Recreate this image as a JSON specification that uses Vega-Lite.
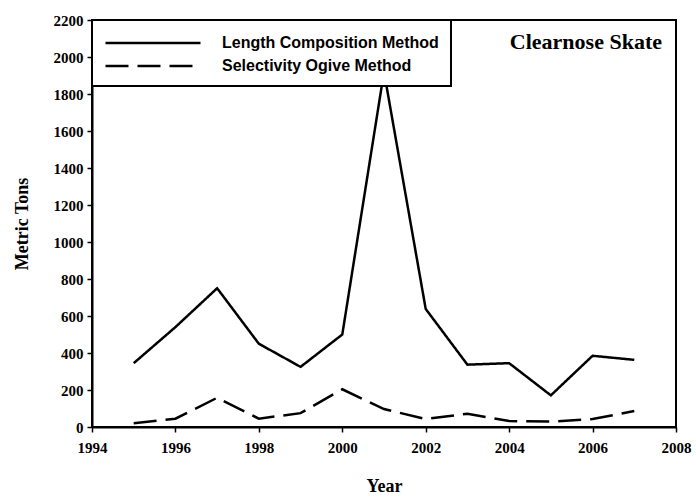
{
  "$schema": "https://vega.github.io/schema/vega-lite/v6.json",
  "width": 584,
  "height": 407,
  "autosize": {"type": "none"},
  "padding": {"left": 92, "top": 20, "right": 20, "bottom": 70},
  "background": "white",
  "title": {"text": "Clearnose Skate", "anchor": "end", "frame": "group", "orient": "top", "offset": -41, "dx": -14, "font": "Liberation Serif", "fontSize": 22, "fontWeight": "bold", "color": "black"},
  "config": {
    "view": {"stroke": "black", "strokeWidth": 2},
    "legend": {"strokeWidth": 2},
    "axis": {
      "labelFont": "Liberation Serif", "labelFontWeight": "bold", "labelFontSize": 15, "labelColor": "black",
      "titleFont": "Liberation Serif", "titleFontWeight": "bold", "titleFontSize": 18, "titleColor": "black",
      "domainColor": "black", "domainWidth": 2, "tickColor": "black", "tickWidth": 1.5, "tickSize": 5, "grid": false
    }
  },
  "data": {"values": [
    {"year": 1995, "tons": 345, "method": "Length Composition Method"},
    {"year": 1996, "tons": 540, "method": "Length Composition Method"},
    {"year": 1997, "tons": 750, "method": "Length Composition Method"},
    {"year": 1998, "tons": 450, "method": "Length Composition Method"},
    {"year": 1999, "tons": 325, "method": "Length Composition Method"},
    {"year": 2000, "tons": 500, "method": "Length Composition Method"},
    {"year": 2001, "tons": 1920, "method": "Length Composition Method"},
    {"year": 2002, "tons": 638, "method": "Length Composition Method"},
    {"year": 2003, "tons": 337, "method": "Length Composition Method"},
    {"year": 2004, "tons": 345, "method": "Length Composition Method"},
    {"year": 2005, "tons": 171, "method": "Length Composition Method"},
    {"year": 2006, "tons": 385, "method": "Length Composition Method"},
    {"year": 2007, "tons": 363, "method": "Length Composition Method"},
    {"year": 1995, "tons": 20, "method": "Selectivity Ogive Method"},
    {"year": 1996, "tons": 45, "method": "Selectivity Ogive Method"},
    {"year": 1997, "tons": 158, "method": "Selectivity Ogive Method"},
    {"year": 1998, "tons": 45, "method": "Selectivity Ogive Method"},
    {"year": 1999, "tons": 75, "method": "Selectivity Ogive Method"},
    {"year": 2000, "tons": 204, "method": "Selectivity Ogive Method"},
    {"year": 2001, "tons": 97, "method": "Selectivity Ogive Method"},
    {"year": 2002, "tons": 43, "method": "Selectivity Ogive Method"},
    {"year": 2003, "tons": 72, "method": "Selectivity Ogive Method"},
    {"year": 2004, "tons": 32, "method": "Selectivity Ogive Method"},
    {"year": 2005, "tons": 29, "method": "Selectivity Ogive Method"},
    {"year": 2006, "tons": 43, "method": "Selectivity Ogive Method"},
    {"year": 2007, "tons": 86, "method": "Selectivity Ogive Method"}
  ]},
  "mark": {"type": "line", "strokeWidth": 2.5, "color": "black"},
  "encoding": {
    "x": {"field": "year", "type": "quantitative", "title": "Year",
      "scale": {"domain": [1994, 2008], "nice": false, "zero": false},
      "axis": {"values": [1994, 1996, 1998, 2000, 2002, 2004, 2006, 2008], "format": "d", "labelPadding": 8, "titlePadding": 22, "labelFlush": false, "labelOverlap": false}},
    "y": {"field": "tons", "type": "quantitative", "title": "Metric Tons",
      "scale": {"domain": [0, 2200], "nice": false},
      "axis": {"values": [0, 200, 400, 600, 800, 1000, 1200, 1400, 1600, 1800, 2000, 2200], "format": "d", "labelPadding": 4, "titlePadding": 22, "labelFlush": false, "labelOverlap": false}},
    "strokeDash": {"field": "method", "type": "nominal",
      "scale": {"domain": ["Length Composition Method", "Selectivity Ogive Method"], "range": [[1, 0], [23, 9]]},
      "legend": {"orient": "none", "legendX": 0, "legendY": 0, "title": null, "fillColor": "white", "strokeColor": "black", "padding": 12,
        "symbolType": "M-1,0H9", "symbolSize": 361, "symbolStrokeWidth": 2.5, "symbolStrokeColor": "black", "rowPadding": 4,
        "labelFont": "Liberation Sans", "labelFontWeight": "bold", "labelFontSize": 16, "labelColor": "black", "labelOffset": 96, "labelLimit": 400}}
  }
}
